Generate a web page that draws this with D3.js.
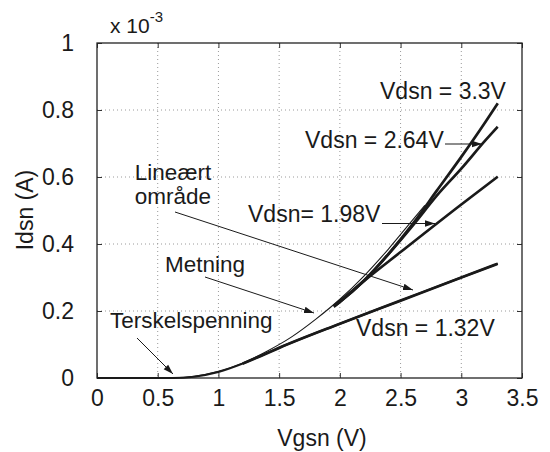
<!DOCTYPE html>
<html>
<head>
<meta charset="utf-8">
<script src="https://cdn.jsdelivr.net/npm/d3@7"></script>
<style>
  html, body { margin: 0; padding: 0; background: #fff; }
  svg { display: block; }
  text { font-family: "Liberation Sans", Arial, Helvetica, sans-serif; fill: #1a1a1a; }
</style>
</head>
<body>
<svg id="chart" width="550" height="452"></svg>
<script>
// ---------- data (Idsn in units of 1e-3 A) ----------
const xTicks = [0, 0.5, 1, 1.5, 2, 2.5, 3, 3.5];
const xTickLabels = ["0", "0.5", "1", "1.5", "2", "2.5", "3", "3.5"];
const yTicks = [0, 0.2, 0.4, 0.6, 0.8, 1];
const yTickLabels = ["0", "0.2", "0.4", "0.6", "0.8", "1"];

// thin saturation envelope
const envVgs = [0.62, 0.8, 1.0, 1.2, 1.4, 1.6, 1.8, 2.0, 2.2, 2.4, 2.6, 2.7];
const envId  = [0, 0.005, 0.02, 0.045, 0.08, 0.122, 0.175, 0.235, 0.305, 0.385, 0.472, 0.515];

// bold curves, one per Vdsn
const vgs132 = [0, 0.62, 0.8, 1.0, 1.2, 1.35, 1.5, 2.0, 2.5, 3.0, 3.3];
const id132  = [0, 0, 0.004, 0.018, 0.043, 0.066, 0.09, 0.162, 0.231, 0.30, 0.341];

const vgs198 = [1.95, 2.0, 2.2, 2.5, 3.0, 3.3];
const id198  = [0.216, 0.23, 0.29, 0.376, 0.518, 0.601];

const vgs264 = [1.95, 2.0, 2.2, 2.4, 2.6, 2.8, 3.0, 3.2, 3.3];
const id264  = [0.213, 0.227, 0.291, 0.37, 0.455, 0.545, 0.625, 0.71, 0.75];

const vgs330 = [1.95, 2.0, 2.2, 2.4, 2.6, 2.8, 3.0, 3.2, 3.3];
const id330  = [0.213, 0.227, 0.291, 0.37, 0.46, 0.56, 0.66, 0.765, 0.82];

// ---------- layout ----------
const svg = d3.select("#chart");
const L = 97, R = 522, T = 43, B = 378;
const FS = "23px";
const x = d3.scaleLinear().domain([0, 3.5]).range([L, R]);
const y = d3.scaleLinear().domain([0, 1]).range([B, T]);

const defs = svg.append("defs");
defs.append("marker")
  .attr("id", "arr")
  .attr("viewBox", "0 0 10 8")
  .attr("refX", 10).attr("refY", 4)
  .attr("markerWidth", 10).attr("markerHeight", 8)
  .attr("markerUnits", "userSpaceOnUse")
  .attr("orient", "auto")
  .append("path").attr("d", "M0,0.8 L10,4 L0,7.2 Z").attr("fill", "#1a1a1a");

// grid
const grid = svg.append("g");
grid.selectAll(".gx").data(xTicks.slice(1, -1)).join("line")
  .attr("x1", d => x(d)).attr("x2", d => x(d)).attr("y1", T).attr("y2", B)
  .attr("stroke", "#9a9a9a").attr("stroke-width", 1).attr("stroke-dasharray", "1,3");
grid.selectAll(".gy").data(yTicks.slice(1, -1)).join("line")
  .attr("x1", L).attr("x2", R).attr("y1", d => y(d)).attr("y2", d => y(d))
  .attr("stroke", "#9a9a9a").attr("stroke-width", 1).attr("stroke-dasharray", "1,3");

// axes (inner ticks)
const fmtX = (d, i) => xTickLabels[i];
const fmtY = (d, i) => yTickLabels[i];
const axB = svg.append("g").attr("transform", `translate(0,${B})`)
  .call(d3.axisBottom(x).tickValues(xTicks).tickFormat(fmtX).tickSizeInner(-5).tickSizeOuter(0).tickPadding(12));
const axL = svg.append("g").attr("transform", `translate(${L},0)`)
  .call(d3.axisLeft(y).tickValues(yTicks).tickFormat(fmtY).tickSizeInner(-5).tickSizeOuter(0).tickPadding(23));
const axT = svg.append("g").attr("transform", `translate(0,${T})`)
  .call(d3.axisTop(x).tickValues(xTicks).tickFormat("").tickSizeInner(-5).tickSizeOuter(0));
const axR = svg.append("g").attr("transform", `translate(${R},0)`)
  .call(d3.axisRight(y).tickValues(yTicks).tickFormat("").tickSizeInner(-5).tickSizeOuter(0));
[axB, axL, axT, axR].forEach(a => {
  a.select(".domain").remove();
  a.selectAll("line").attr("stroke", "#333");
  a.selectAll("text").style("font-size", FS).attr("fill", "#1a1a1a")
    .style("font-family", '"Liberation Sans", Arial, sans-serif');
});
// frame
svg.append("rect").attr("x", L).attr("y", T).attr("width", R - L).attr("height", B - T)
  .attr("fill", "none").attr("stroke", "#222").attr("stroke-width", 1.3);

// curves
const line = d3.line().x(d => x(d[0])).y(d => y(d[1])).curve(d3.curveMonotoneX);
const zip = (a, b) => a.map((v, i) => [v, b[i]]);

svg.append("path").datum(zip(envVgs, envId)).attr("d", line)
  .attr("fill", "none").attr("stroke", "#1a1a1a").attr("stroke-width", 1.1);
const widths = [2.0, 2.7, 2.7, 2.7];
[[vgs132, id132], [vgs198, id198], [vgs264, id264], [vgs330, id330]].forEach(([a, b], i) => {
  svg.append("path").datum(zip(a, b)).attr("d", line)
    .attr("fill", "none").attr("stroke", "#1a1a1a").attr("stroke-width", widths[i])
    .attr("stroke-linejoin", "round");
});
// heavier linear part of the 1.32 V curve
svg.append("path").datum(zip(vgs132, id132).filter(d => d[0] >= 1.2)).attr("d", line)
  .attr("fill", "none").attr("stroke", "#1a1a1a").attr("stroke-width", 2.8);

// axis titles
svg.append("text").attr("x", 322).attr("y", 446).attr("text-anchor", "middle")
  .style("font-size", FS).text("Vgsn (V)");
svg.append("text").attr("transform", "translate(33,210) rotate(-90)").attr("text-anchor", "middle")
  .style("font-size", FS).text("Idsn (A)");
const ex = svg.append("text").attr("x", 110).attr("y", 33).style("font-size", "21px");
ex.append("tspan").text("x 10");
ex.append("tspan").attr("dy", -11).style("font-size", "15px").text("-3");

// annotations
const ann = (t, xx, yy, fs) => svg.append("text").attr("x", xx).attr("y", yy).style("font-size", fs || FS).text(t);
ann("Vdsn = 3.3V", 380, 99);
ann("Vdsn = 2.64V", 305, 148);
ann("Vdsn= 1.98V", 248, 222);
ann("Vdsn = 1.32V", 356, 336);
svg.append("text").attr("x", 173).attr("y", 180).attr("text-anchor", "middle").style("font-size", "22.5px").text("Lineært");
svg.append("text").attr("x", 173).attr("y", 204).attr("text-anchor", "middle").style("font-size", "22.5px").text("område");
ann("Metning", 165, 272, "22.5px");
ann("Terskelspenning", 110, 328, "22.5px");

const arrow = (x1, y1, x2, y2) => svg.append("line")
  .attr("x1", x1).attr("y1", y1).attr("x2", x2).attr("y2", y2)
  .attr("stroke", "#1a1a1a").attr("stroke-width", 1).attr("marker-end", "url(#arr)");
arrow(445, 144, 482, 144);
arrow(382, 223.5, 435, 223.5);
arrow(175, 212, 413, 290);
arrow(205, 277, 314, 313);
arrow(137, 338, 173, 374);
</script>
</body>
</html>
